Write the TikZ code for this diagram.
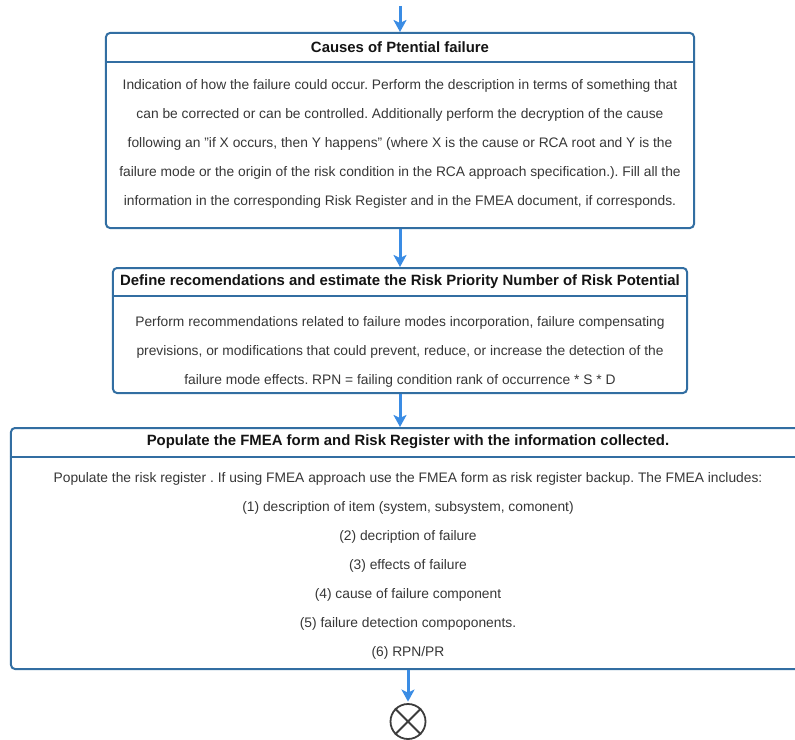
\documentclass[tikz,border=0pt]{standalone}
\usepackage{fontspec}
\setmainfont{Liberation Sans}
\usetikzlibrary{arrows.meta}
\definecolor{boxline}{RGB}{50,110,162}
\definecolor{flowline}{RGB}{58,140,228}
\definecolor{bodytext}{RGB}{55,55,55}
\definecolor{titletext}{RGB}{20,20,20}
\definecolor{endline}{RGB}{60,60,60}
\frenchspacing
\tikzset{
  stagebox/.style={draw=boxline, line width=2bp, rounded corners=4bp, fill=white, inner sep=0pt},
  divider/.style={draw=boxline, line width=2bp},
  stagetitle/.style={font=\fontsize{14.9bp}{17bp}\selectfont\bfseries, text=titletext, inner sep=0pt},
  stagebody/.style={font=\fontsize{13.8bp}{29bp}\selectfont, text=bodytext, align=center, inner sep=0pt},
  flow/.style={draw=flowline, line width=3bp, -{Stealth[length=12bp,width=13bp,inset=3bp]}},
  endmark/.style={circle, draw=endline, line width=1.8bp, minimum size=35bp, inner sep=0pt}
}
\begin{document}
\begin{tikzpicture}[x=1bp,y=-1bp]
\useasboundingbox (0,0) rectangle (795,740);

% stage 1
\node[stagebox, minimum width=588bp, minimum height=195bp] (box1) at (400,130.5) {};
\draw[divider] (box1.west |- 0,62) -- (box1.east |- 0,62);
\node[stagetitle] (title1) at (400,47.5) {Causes of Ptential failure};
\node[stagebody] (body1) at (400,144) {Indication of how the failure could occur. Perform the description in terms of something that\\
can be corrected or can be controlled. Additionally perform the decryption of the cause\\
following an \char34 if X occurs, then Y happens\char34\ (where X is the cause or RCA root and Y is the\\
failure mode or the origin of the risk condition in the RCA approach specification.). Fill all the\\
information in the corresponding Risk Register and in the FMEA document, if corresponds.};

% stage 2
\node[stagebox, minimum width=574bp, minimum height=125bp] (box2) at (400,330.5) {};
\draw[divider] (box2.west |- 0,296) -- (box2.east |- 0,296);
\node[stagetitle] (title2) at (400,282) {Define recomendations and estimate the Risk Priority Number of Risk Potential};
\node[stagebody] (body2) at (400,352) {Perform recommendations related to failure modes incorporation, failure compensating\\
previsions, or modifications that could prevent, reduce, or increase the detection of the\\
failure mode effects. RPN = failing condition rank of occurrence * S * D};

% stage 3
\node[stagebox, minimum width=794bp, minimum height=241bp] (box3) at (408,548.5) {};
\draw[divider] (box3.west |- 0,457) -- (box3.east |- 0,457);
\node[stagetitle] (title3) at (408,442) {Populate the FMEA form and Risk Register with the information collected.};
\node[stagebody] (body3) at (408,565.5) {Populate the risk register . If using FMEA approach use the FMEA form as risk register backup. The FMEA includes:\\
(1) description of item (system, subsystem, comonent)\\
(2) decription of failure\\
(3) effects of failure\\
(4) cause of failure component\\
(5) failure detection compoponents.\\
(6) RPN/PR};

% end of flow
\node[endmark] (finish) at (408,721.5) {};
\draw[endline, line width=1.8bp] (finish.45) -- (finish.225) (finish.135) -- (finish.-45);

% connectors
\coordinate (entry) at (400,6);
\draw[flow] (entry) -- (box1.north);
\draw[flow] (box1.south) -- (box2.north);
\draw[flow] (box2.south) -- (box2.south |- box3.north);
\draw[flow, shorten >=1.5bp] (box3.south) -- (finish.north);
\end{tikzpicture}
\end{document}
